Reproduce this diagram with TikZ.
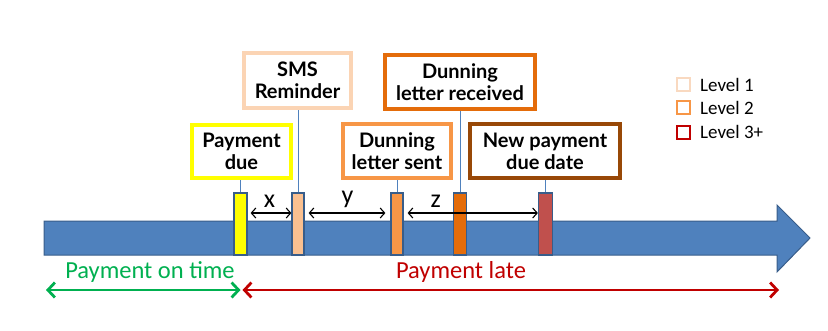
\documentclass[tikz,border=0pt]{standalone}
\usepackage{fontspec}
\setmainfont{Carlito}
\newfontfamily\boxfont{Lato}
\usetikzlibrary{arrows.meta}
\definecolor{barblue}{HTML}{4F81BD}
\definecolor{barline}{HTML}{385D8A}
\definecolor{cyellow}{HTML}{FFFF00}
\definecolor{cpeach}{HTML}{FAC090}
\definecolor{cpeachbox}{HTML}{FBD4B4}
\definecolor{corange}{HTML}{F79646}
\definecolor{cdkorange}{HTML}{E46C0A}
\definecolor{cred}{HTML}{C0504D}
\definecolor{cbrown}{HTML}{984807}
\definecolor{cdkred}{HTML}{C00000}
\definecolor{cgreen}{HTML}{00B050}
\definecolor{lvone}{HTML}{F9D9C0}
\begin{document}
\begin{tikzpicture}[x=1pt,y=-1pt,
  evbox/.style={draw, line width=3.5pt, fill=white, align=center, inner sep=0pt,
    font=\boxfont\bfseries\fontsize{20}{22}\selectfont},
  mk/.style={draw=barline, line width=1.2pt, inner sep=0pt, minimum height=62pt},
  conn/.style={draw=barblue, line width=0.8pt},
  dbl/.style={draw=black, line width=1.1pt, {Straight Barb[length=4.5pt,width=10pt]}-{Straight Barb[length=4.5pt,width=10pt]}},
  lbl/.style={font=\fontsize{26}{27}\selectfont, inner sep=0pt},
  bigarr/.style={line width=2.8pt, {Straight Barb[length=7pt,width=15pt]}-{Straight Barb[length=7pt,width=15pt]}},
  lgsq/.style={draw, line width=2pt, minimum size=13pt, inner sep=0pt},
  lgtxt/.style={anchor=west, font=\fontsize{19}{21}\selectfont, inner sep=0pt}
]
\useasboundingbox (0,0) rectangle (828,330);

% main timeline arrow
\filldraw[fill=barblue, draw=barline, line width=1pt]
  (44,221) -- (777,221) -- (777,205) -- (810,238) -- (777,272) -- (777,255) -- (44,255) -- cycle;

% markers
\node[mk, fill=cyellow, minimum width=13pt] (m1) at (240.5,224) {};
\node[mk, fill=cpeach, minimum width=12pt] (m2) at (298,224) {};
\node[mk, fill=corange, minimum width=12pt] (m3) at (397,224) {};
\node[mk, fill=cdkorange, minimum width=13pt] (m4) at (460,224) {};
\node[mk, fill=cred, minimum width=14pt] (m5) at (545.5,224) {};

% boxes
\node[evbox, draw=cyellow, minimum width=99pt, minimum height=53pt] (b1) at (241.5,151.5) {Payment\\due};
\node[evbox, draw=cpeachbox, minimum width=107pt, minimum height=55pt] (b2) at (297.5,80.5) {SMS\\Reminder};
\node[evbox, draw=corange, minimum width=108pt, minimum height=54pt] (b3) at (397,151) {Dunning\\letter sent};
\node[evbox, draw=cdkorange, minimum width=150pt, minimum height=54pt] (b4) at (460,82) {Dunning\\letter received};
\node[evbox, draw=cbrown, minimum width=150pt, minimum height=54pt] (b5) at (545,151) {New payment\\due date};

% connectors
\draw[conn] (m1.north) -- (m1.north |- b1.south);
\draw[conn] (m2.north) -- (m2.north |- b2.south);
\draw[conn] (m3.north) -- (m3.north |- b3.south);
\draw[conn] (m4.north) -- (m4.north |- b4.south);
\draw[conn] (m5.north) -- (m5.north |- b5.south);

% interval arrows
\coordinate (ay) at (0,213);
\draw[dbl, shorten <=3pt] (m1.east |- ay) -- node[lbl, above=5pt]{x} (m2.west |- ay);
\draw[dbl, shorten <=4pt, shorten >=5pt] (m2.east |- ay) -- node[lbl, above=5pt]{y} (m3.west |- ay);
\draw[dbl, shorten <=4pt] (m3.east |- ay) -- node[lbl, above=5pt, pos=0.24]{z} (m5.west |- ay);

% bottom ranges
\coordinate (gl) at (46,290);
\coordinate (gm) at (240.5,290);
\coordinate (rr) at (779,290);
\draw[bigarr, draw=cgreen] (gl) -- (gm);
\draw[bigarr, draw=cdkred, shorten <=2pt] (gm) -- (rr);
\node[text=cgreen, font=\fontsize{24.5}{26}\selectfont] (t1) at (150,272) {Payment on time};
\node[text=cdkred, font=\fontsize{24.5}{26}\selectfont] (t2) at (461,272) {Payment late};

% legend
\node[lgsq, draw=lvone] (s1) at (683.5,84.5) {};
\node[lgsq, draw=corange] (s2) at (683.5,107.5) {};
\node[lgsq, draw=cdkred] (s3) at (683.5,132) {};
\node[lgtxt] (l1) at (700,84.5) {Level 1};
\node[lgtxt] (l2) at (700,107.5) {Level 2};
\node[lgtxt] (l3) at (700,132) {Level 3+};
\end{tikzpicture}
\end{document}
